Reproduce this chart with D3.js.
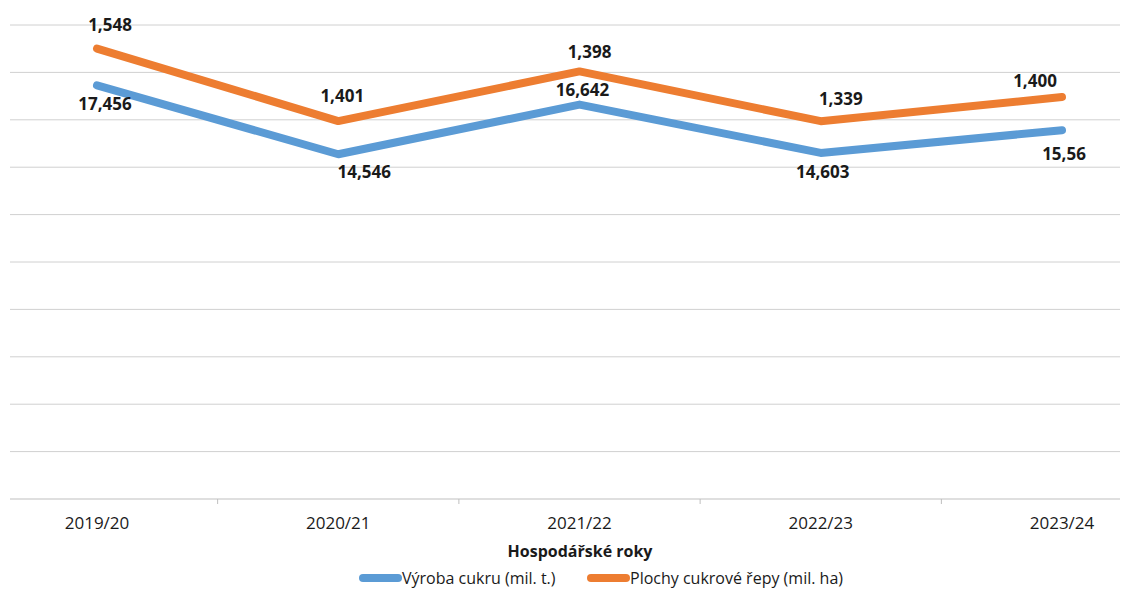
<!DOCTYPE html>
<html>
<head>
<meta charset="utf-8">
<script src="https://cdn.jsdelivr.net/npm/d3@7"></script>
<style>
  body { margin: 0; background: #fff; }
  text { font-family: "Open Sans", Lato, sans-serif; }
</style>
</head>
<body>
<svg id="chart" width="1123" height="590"></svg>
<script>
// Chart data
const seasons = ['2019/20', '2020/21', '2021/22', '2022/23', '2023/24'];
const sugarOutput = [17.456, 14.546, 16.642, 14.603, 15.56];   // Výroba cukru (mil. t.)
const beetArea = [1.548, 1.401, 1.398, 1.339, 1.400];          // Plochy cukrové řepy (mil. ha)
const sugarLabels = ['17,456', '14,546', '16,642', '14,603', '15,56'];
const beetLabels = ['1,548', '1,401', '1,398', '1,339', '1,400'];
const yTicks = d3.range(0, 21, 2);

// label nudges (px) as placed in the original
const sugarNudge = [[8, 19], [26, 18], [3, -15], [2, 19], [2, 24]];
const beetNudge = [[13, -24], [4, -25], [10, -19], [20, -22], [-27, -16]];

const svg = d3.select('#chart');
const plotLeft = 10, plotRight = 1120;

const x = d3.scalePoint()
    .domain(seasons)
    .range([97, 1062]);
const step = x.step();

const y = d3.scaleLinear()
    .domain([0, 20])
    .range([499, 25]);

// gridlines
svg.append('g')
    .selectAll('line')
    .data(yTicks.filter(d => d > 0))
    .enter()
    .append('line')
    .attr('x1', plotLeft)
    .attr('x2', plotRight)
    .attr('y1', d => y(d))
    .attr('y2', d => y(d))
    .attr('stroke', '#d0d0d0')
    .attr('stroke-width', 1);

// x axis
svg.append('line')
    .attr('x1', plotLeft).attr('x2', plotRight)
    .attr('y1', y(0)).attr('y2', y(0))
    .attr('stroke', '#bfbfbf').attr('stroke-width', 1);

svg.append('g')
    .selectAll('line')
    .data(seasons.slice(1))
    .enter()
    .append('line')
    .attr('x1', d => x(d) - step / 2)
    .attr('x2', d => x(d) - step / 2)
    .attr('y1', y(0))
    .attr('y2', y(0) + 5)
    .attr('stroke', '#bfbfbf');

svg.append('g')
    .selectAll('text')
    .data(seasons)
    .enter()
    .append('text')
    .attr('x', d => x(d))
    .attr('y', 529)
    .attr('text-anchor', 'middle')
    .attr('font-size', '17px')
    .attr('fill', '#1a1a1a')
    .text(d => d);

svg.append('text')
    .attr('x', 580)
    .attr('y', 557)
    .attr('text-anchor', 'middle')
    .attr('font-size', '16px')
    .attr('font-weight', 'bold')
    .attr('fill', '#1a1a1a')
    .text('Hospodářské roky');

// stacked lines
const stackedBeet = beetArea.map((v, i) => v + sugarOutput[i]);

const line = d3.line()
    .x((d, i) => x(seasons[i]))
    .y(d => y(d));

const series = [
    { values: sugarOutput, color: '#5B9BD5', labels: sugarLabels, nudge: sugarNudge },
    { values: stackedBeet, color: '#ED7D31', labels: beetLabels, nudge: beetNudge }
];

series.forEach(s => {
    svg.append('path')
        .datum(s.values)
        .attr('d', line)
        .attr('fill', 'none')
        .attr('stroke', s.color)
        .attr('stroke-width', 8)
        .attr('stroke-linecap', 'round')
        .attr('stroke-linejoin', 'round');
});

series.forEach(s => {
    svg.append('g')
        .selectAll('text')
        .data(s.values)
        .enter()
        .append('text')
        .attr('x', (d, i) => x(seasons[i]) + s.nudge[i][0])
        .attr('y', (d, i) => y(d) + s.nudge[i][1])
        .attr('dy', '0.35em')
        .attr('text-anchor', 'middle')
        .attr('font-size', '17px')
        .attr('font-weight', 'bold')
        .attr('fill', '#1a1a1a')
        .text((d, i) => s.labels[i]);
});

// legend
const legendItems = [
    { name: 'Výroba cukru (mil. t.)', color: '#5B9BD5', x: 360 },
    { name: 'Plochy cukrové řepy (mil. ha)', color: '#ED7D31', x: 588 }
];
const legend = svg.append('g');
legendItems.forEach(item => {
    legend.append('line')
        .attr('x1', item.x + 3).attr('x2', item.x + 38)
        .attr('y1', 578).attr('y2', 578)
        .attr('stroke', item.color)
        .attr('stroke-width', 8)
        .attr('stroke-linecap', 'round');
    legend.append('text')
        .attr('x', item.x + 42)
        .attr('y', 578)
        .attr('dy', '0.35em')
        .attr('font-size', '16px')
        .attr('fill', '#1a1a1a')
        .text(item.name);
});
</script>
</body>
</html>
